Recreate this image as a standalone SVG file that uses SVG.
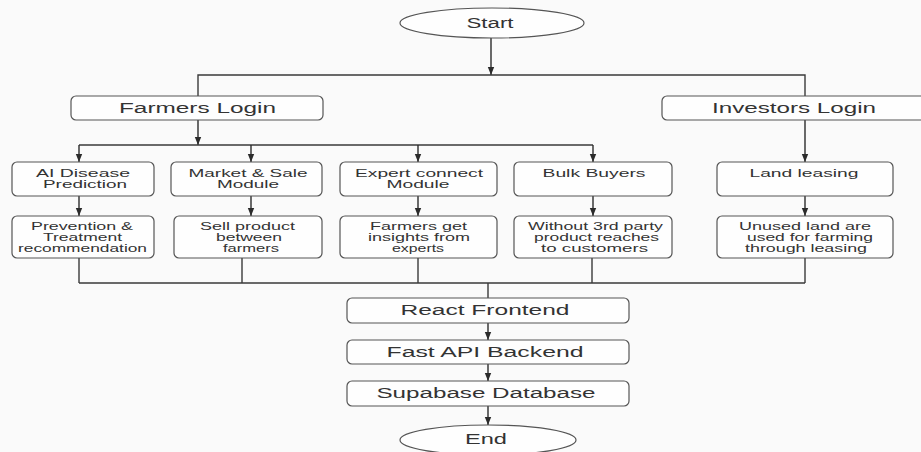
<svg xmlns="http://www.w3.org/2000/svg" width="921" height="452" viewBox="0 0 921 452">
<defs>
<marker id="ah" viewBox="0 0 8 8" refX="8" refY="4" markerWidth="8" markerHeight="8" markerUnits="userSpaceOnUse" orient="auto">
<path d="M0,0.8 L8,4 L0,7.2 Z" fill="#2b2b2b"/>
</marker>
<style>
.bx{fill:#fefefe;stroke:#555;stroke-width:1.2}
.ln{fill:none;stroke:#3a3a3a;stroke-width:1.4}
.ar{fill:none;stroke:#2b2b2b;stroke-width:1.4;marker-end:url(#ah)}
.t{font-family:"Liberation Sans",Arial,sans-serif;fill:#333;text-anchor:middle}
.b{font-size:14px}
.s{font-size:11.5px}
</style>
</defs>
<rect width="921" height="452" fill="#fafafa"/>
<g id="connectors">
<path class="ar" d="M491,38 V75"/>
<path class="ln" d="M198,96 V75 H805 V96"/>
<path class="ar" d="M198,120 V145"/>
<path class="ln" d="M79,145 H593"/>
<path class="ar" d="M79,145 V162"/>
<path class="ar" d="M251,145 V162"/>
<path class="ar" d="M418,145 V162"/>
<path class="ar" d="M593,145 V162"/>
<path class="ar" d="M805,120 V162"/>
<path class="ar" d="M79,196 V216"/>
<path class="ar" d="M251,196 V216"/>
<path class="ar" d="M418,196 V216"/>
<path class="ar" d="M593,196 V216"/>
<path class="ar" d="M805,196 V216"/>
<path class="ln" d="M79,258 V283 M242,258 V283 M418,258 V283 M592,258 V283 M805,258 V283 M79,283 H805 M488,283 V298"/>
<path class="ar" d="M488,323 V340"/>
<path class="ar" d="M488,364 V381"/>
<path class="ar" d="M488,406 V425"/>
</g>
<g id="start">
<ellipse class="bx" cx="492" cy="23" rx="92" ry="15"/>
<text class="t b" x="490" y="28" textLength="47" lengthAdjust="spacingAndGlyphs">Start</text>
</g>
<g id="farmers-login">
<rect class="bx" x="71" y="96" width="252" height="24" rx="5"/>
<text class="t b" x="197.5" y="113" textLength="157" lengthAdjust="spacingAndGlyphs">Farmers Login</text>
</g>
<g id="investors-login">
<rect class="bx" x="662" y="96" width="265" height="24" rx="5"/>
<text class="t b" x="794" y="113" textLength="164" lengthAdjust="spacingAndGlyphs">Investors Login</text>
</g>
<g id="ai-disease">
<rect class="bx" x="12" y="162" width="142" height="34" rx="5"/>
<text class="t s" x="83" y="177" textLength="94" lengthAdjust="spacingAndGlyphs">AI Disease</text>
<text class="t s" x="85" y="188" textLength="84" lengthAdjust="spacingAndGlyphs">Prediction</text>
</g>
<g id="market-sale">
<rect class="bx" x="171" y="162" width="151" height="34" rx="5"/>
<text class="t s" x="248" y="177" textLength="119" lengthAdjust="spacingAndGlyphs">Market &amp; Sale</text>
<text class="t s" x="248" y="188" textLength="62" lengthAdjust="spacingAndGlyphs">Module</text>
</g>
<g id="expert-connect">
<rect class="bx" x="340" y="162" width="157" height="34" rx="5"/>
<text class="t s" x="419" y="177" textLength="128" lengthAdjust="spacingAndGlyphs">Expert connect</text>
<text class="t s" x="418" y="188" textLength="63" lengthAdjust="spacingAndGlyphs">Module</text>
</g>
<g id="bulk-buyers">
<rect class="bx" x="514" y="162" width="158" height="34" rx="5"/>
<text class="t s" x="594" y="177" textLength="103" lengthAdjust="spacingAndGlyphs">Bulk Buyers</text>
</g>
<g id="land-leasing">
<rect class="bx" x="717" y="162" width="176" height="34" rx="5"/>
<text class="t s" x="804" y="177" textLength="109" lengthAdjust="spacingAndGlyphs">Land leasing</text>
</g>
<g id="prevention">
<rect class="bx" x="12" y="216" width="142" height="42" rx="5"/>
<text class="t s" x="82" y="230" textLength="102" lengthAdjust="spacingAndGlyphs">Prevention &amp;</text>
<text class="t s" x="82.5" y="241" textLength="79" lengthAdjust="spacingAndGlyphs">Treatment</text>
<text class="t s" x="82.5" y="252" textLength="129" lengthAdjust="spacingAndGlyphs">recommendation</text>
</g>
<g id="sell-product">
<rect class="bx" x="174" y="216" width="148" height="42" rx="5"/>
<text class="t s" x="247.5" y="230" textLength="95" lengthAdjust="spacingAndGlyphs">Sell product</text>
<text class="t s" x="249" y="241" textLength="66" lengthAdjust="spacingAndGlyphs">between</text>
<text class="t s" x="251" y="252" textLength="56" lengthAdjust="spacingAndGlyphs">farmers</text>
</g>
<g id="farmers-insights">
<rect class="bx" x="340" y="216" width="157" height="42" rx="5"/>
<text class="t s" x="418.5" y="230" textLength="97" lengthAdjust="spacingAndGlyphs">Farmers get</text>
<text class="t s" x="419" y="241" textLength="102" lengthAdjust="spacingAndGlyphs">insights from</text>
<text class="t s" x="418" y="252" textLength="52" lengthAdjust="spacingAndGlyphs">experts</text>
</g>
<g id="without-third-party">
<rect class="bx" x="514" y="216" width="158" height="42" rx="5"/>
<text class="t s" x="595.5" y="230" textLength="135" lengthAdjust="spacingAndGlyphs">Without 3rd party</text>
<text class="t s" x="596.5" y="241" textLength="125" lengthAdjust="spacingAndGlyphs">product reaches</text>
<text class="t s" x="594.5" y="252" textLength="107" lengthAdjust="spacingAndGlyphs">to customers</text>
</g>
<g id="unused-land">
<rect class="bx" x="717" y="216" width="176" height="42" rx="5"/>
<text class="t s" x="805" y="230" textLength="132" lengthAdjust="spacingAndGlyphs">Unused land are</text>
<text class="t s" x="810" y="241" textLength="126" lengthAdjust="spacingAndGlyphs">used for farming</text>
<text class="t s" x="806" y="252" textLength="122" lengthAdjust="spacingAndGlyphs">through leasing</text>
</g>
<g id="react-frontend">
<rect class="bx" x="347" y="298" width="282" height="25" rx="5"/>
<text class="t b" x="485" y="315" textLength="169" lengthAdjust="spacingAndGlyphs">React Frontend</text>
</g>
<g id="fastapi-backend">
<rect class="bx" x="347" y="340" width="282" height="24" rx="5"/>
<text class="t b" x="485" y="357" textLength="197" lengthAdjust="spacingAndGlyphs">Fast API Backend</text>
</g>
<g id="supabase-database">
<rect class="bx" x="347" y="381" width="282" height="25" rx="5"/>
<text class="t b" x="486" y="398" textLength="219" lengthAdjust="spacingAndGlyphs">Supabase Database</text>
</g>
<g id="end">
<ellipse class="bx" cx="488" cy="440" rx="88" ry="15"/>
<text class="t b" x="486" y="444" textLength="42" lengthAdjust="spacingAndGlyphs">End</text>
</g>
</svg>
